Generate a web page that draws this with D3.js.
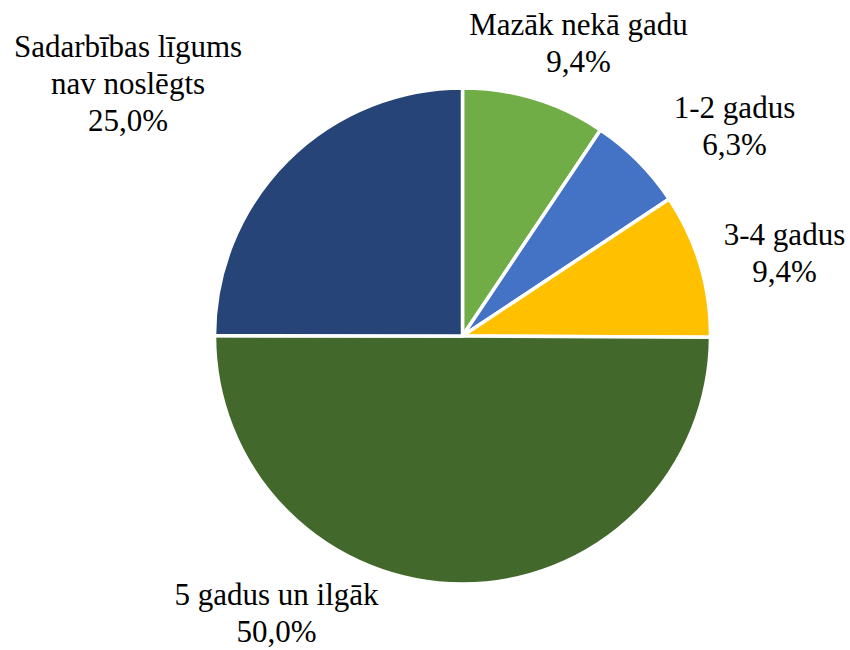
<!DOCTYPE html>
<html>
<head>
<meta charset="utf-8">
<script src="https://cdn.jsdelivr.net/npm/d3@7"></script>
<style>
  html, body { margin: 0; padding: 0; background: #ffffff; }
  svg { display: block; }
</style>
</head>
<body>
<svg id="chart" width="850" height="650"></svg>
<script>
// Data
const categories = ["Mazāk nekā gadu", "1-2 gadus", "3-4 gadus", "5 gadus un ilgāk", "Sadarbības līgums nav noslēgts"];
const values = [9.4, 6.3, 9.4, 50.0, 25.0];
const labelLines = [["Mazāk nekā gadu"], ["1-2 gadus"], ["3-4 gadus"], ["5 gadus un ilgāk"], ["Sadarbības līgums", "nav noslēgts"]];

// Layout / style
const colors = ["#70AD47", "#4472C4", "#FFC000", "#43682B", "#264478"];
const cx = 462.5, cy = 336, R = 248;
const fontSize = 31, lineH = 37;
// label anchor (first baseline, text centre) relative to pie centre
const labelAnchors = [[116, -301], [272, -218], [322, -91], [-186, 269], [-334.5, -279]];

const svg = d3.select("#chart");
const g = svg.append("g").attr("transform", `translate(${cx},${cy})`);

const data = categories.map((c, i) => ({ name: c, value: values[i], i }));
const pie = d3.pie().value(d => d.value).sort(null);
const arc = d3.arc().innerRadius(0).outerRadius(R);
const arcs = pie(data);

g.selectAll("path.slice")
  .data(arcs)
  .join("path")
  .attr("class", "slice")
  .attr("d", arc)
  .attr("fill", d => colors[d.data.i])
  .attr("stroke", "#ffffff")
  .attr("stroke-width", 3.5)
  .attr("stroke-linejoin", "round");

const fmt = v => d3.format(".1f")(v).replace(".", ",") + "%";

const labels = g.selectAll("text.lbl")
  .data(arcs)
  .join("text")
  .attr("class", "lbl")
  .attr("text-anchor", "middle")
  .style("font-family", "'Liberation Serif'")
  .style("font-size", fontSize + "px")
  .attr("fill", "#000000")
  .attr("x", d => labelAnchors[d.data.i][0])
  .attr("y", d => labelAnchors[d.data.i][1]);

labels.each(function(d) {
  const t = d3.select(this);
  const lines = labelLines[d.data.i].concat([fmt(d.data.value)]);
  lines.forEach((ln, k) => {
    t.append("tspan")
      .attr("x", labelAnchors[d.data.i][0])
      .attr("dy", k === 0 ? 0 : lineH)
      .text(ln);
  });
});
</script>
</body>
</html>
